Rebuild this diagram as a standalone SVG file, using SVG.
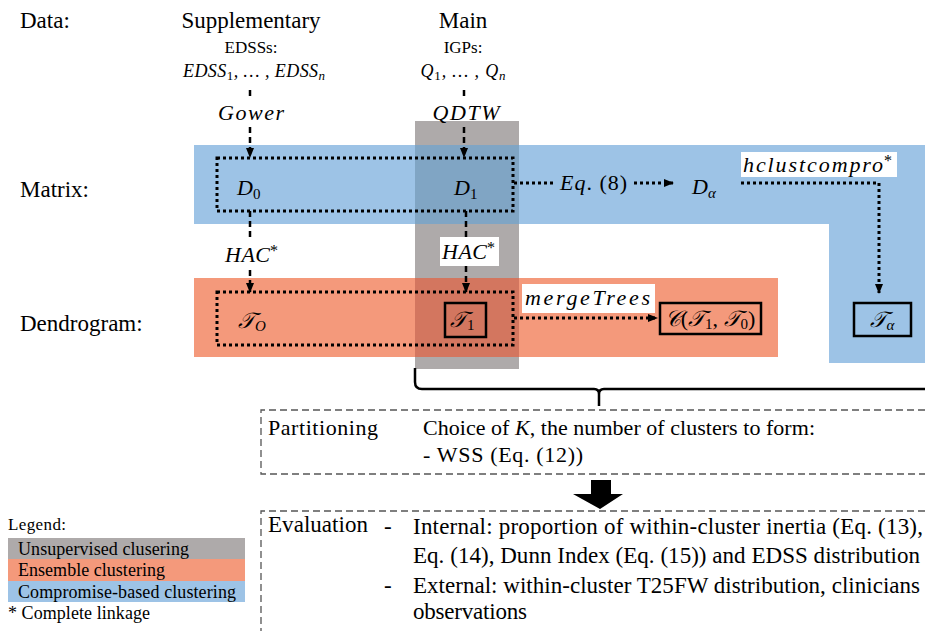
<svg xmlns="http://www.w3.org/2000/svg" width="925" height="631" viewBox="0 0 925 631">
<defs>
<marker id="ah" viewBox="0 0 10 10" refX="9" refY="5" markerWidth="10" markerHeight="10" orient="auto" markerUnits="userSpaceOnUse">
<path d="M0,1 L10,5 L0,9 z" fill="#000"/>
</marker>
<style>
.t{font-family:"Liberation Serif","Times New Roman",serif;fill:#000}
.m{font-family:"Liberation Serif","DejaVu Serif",serif;font-style:italic;fill:#000}
.dash{fill:none;stroke:#000;stroke-width:2.5;stroke-dasharray:6 4}
.dot{fill:none;stroke:#000;stroke-width:3;stroke-dasharray:3 3}
.box{fill:none;stroke:#000;stroke-width:2.5}
.gbox{fill:none;stroke:#555;stroke-width:1.3;stroke-dasharray:7 4}
</style>
</defs>
<rect width="925" height="631" fill="#fff"/>
<g id="bands">
<path d="M194,145 H925 V363 H829 V224 H194 Z" fill="#9DC3E6"/>
<rect x="194" y="278" width="584" height="79" fill="#F4997B"/>
<rect x="415" y="121" width="104" height="248" fill="#AEAAAA"/>
<rect x="415" y="145" width="104" height="79" fill="#80A5C4"/>
<rect x="415" y="278" width="104" height="79" fill="#D3765F"/>
</g>
<g id="labels">
<text class="t" x="20" y="28" font-size="23">Data:</text>
<text class="t" x="20" y="197" font-size="23">Matrix:</text>
<text class="t" x="20" y="331" font-size="23">Dendrogram:</text>
</g>
<g id="supp">
<text class="t" x="251" y="28" font-size="23" text-anchor="middle">Supplementary</text>
<text class="t" x="251" y="53" font-size="17" text-anchor="middle">EDSSs:</text>
<text class="m" x="254" y="77" font-size="18" text-anchor="middle" textLength="142">EDSS<tspan font-size="13" dy="3" font-style="normal">1</tspan><tspan dy="-3">, … , EDSS</tspan><tspan font-size="13" dy="3">n</tspan></text>
</g>
<g id="main">
<text class="t" x="463" y="28" font-size="23" text-anchor="middle">Main</text>
<text class="t" x="463" y="53" font-size="17" text-anchor="middle">IGPs:</text>
<text class="m" x="463" y="77" font-size="18" text-anchor="middle" textLength="85">Q<tspan font-size="13" dy="3" font-style="normal">1</tspan><tspan dy="-3">, … , Q</tspan><tspan font-size="13" dy="3">n</tspan></text>
</g>
<g id="connectors">
<line class="dash" x1="250" y1="90" x2="250" y2="100"/>
<line class="dash" x1="250" y1="127" x2="250" y2="157" marker-end="url(#ah)"/>
<line class="dash" x1="464" y1="90" x2="464" y2="100"/>
<line class="dash" x1="464" y1="127" x2="464" y2="157" marker-end="url(#ah)"/>
<line class="dash" x1="250" y1="211" x2="250" y2="238"/>
<line class="dash" x1="250" y1="270" x2="250" y2="292" marker-end="url(#ah)"/>
<line class="dash" x1="466" y1="211" x2="466" y2="238"/>
<line class="dash" x1="466" y1="266" x2="466" y2="292" marker-end="url(#ah)"/>
<line class="dot" x1="514" y1="183" x2="556" y2="183"/>
<line class="dot" x1="634" y1="183" x2="673" y2="183" marker-end="url(#ah)"/>
<polyline class="dot" points="741,183 879,183 879,293" marker-end="url(#ah)"/>
<line class="dot" x1="514" y1="318" x2="657" y2="318" marker-end="url(#ah)"/>
</g>
<g id="gower">
<text class="m" x="251" y="120" font-size="22" text-anchor="middle" textLength="66">Gower</text>
</g>
<g id="qdtw">
<text class="m" x="466" y="120" font-size="22" text-anchor="middle" textLength="67">QDTW</text>
</g>
<g id="matrixGroup">
<rect class="dot" x="217" y="158" width="296" height="53"/>
</g>
<g id="D0"><text class="m" x="237" y="195" font-size="22">D<tspan font-size="15" dy="4" font-style="normal">0</tspan></text></g>
<g id="D1"><text class="m" x="454" y="195" font-size="22">D<tspan font-size="15" dy="4" font-style="normal">1</tspan></text></g>
<g id="eq8"><text class="m" x="560" y="190" font-size="22" textLength="67">Eq<tspan font-style="normal">. (8)</tspan></text></g>
<g id="Dalpha"><text class="m" x="692" y="194" font-size="22">D<tspan font-size="15" dy="4">α</tspan></text></g>
<g id="hclust">
<rect x="741" y="152" width="156" height="25" fill="#fff"/>
<text class="m" x="743" y="172" font-size="22" textLength="140">hclustcompro</text>
<text class="t" x="884" y="166" font-size="16">*</text>
</g>
<g id="hacL"><text class="m" x="225" y="262" font-size="22" textLength="45">HAC</text><text class="t" x="270" y="256" font-size="16">*</text></g>
<g id="hacR">
<rect x="440" y="237" width="59" height="29" fill="#fff"/>
<text class="m" x="442" y="259" font-size="22" textLength="45">HAC</text><text class="t" x="487" y="253" font-size="16">*</text>
</g>
<g id="dendroGroup">
<rect class="dot" x="217" y="292" width="296" height="53"/>
</g>
<g id="TO"><text class="m" x="238" y="328" font-size="22">𝒯<tspan font-size="15" dy="3">O</tspan></text></g>
<g id="T1">
<rect class="box" x="445" y="303" width="41" height="34"/>
<text class="m" x="450" y="327" font-size="22">𝒯<tspan font-size="15" dy="3" font-style="normal">1</tspan></text>
</g>
<g id="merge">
<rect x="522" y="284" width="133" height="29" fill="#fff"/>
<text class="m" x="525" y="305" font-size="22" textLength="125">mergeTrees</text>
</g>
<g id="C">
<rect class="box" x="660" y="303" width="101" height="31"/>
<text class="m" x="710" y="326" font-size="22" text-anchor="middle">𝒞<tspan font-style="normal">(</tspan>𝒯<tspan font-size="15" dy="3" font-style="normal">1</tspan><tspan dy="-3" font-style="normal">, </tspan>𝒯<tspan font-size="15" dy="3" font-style="normal">0</tspan><tspan dy="-3" font-style="normal">)</tspan></text>
</g>
<g id="Talpha">
<rect class="box" x="854" y="303" width="57" height="33"/>
<text class="m" x="882" y="327" font-size="22" text-anchor="middle">𝒯<tspan font-size="15" dy="3">α</tspan></text>
</g>
<g id="brace">
<path d="M415,368 V382 Q415,389 422,389 H594 Q599,389 599,394 V406 M599,394 Q599,389 604,389 H925" fill="none" stroke="#000" stroke-width="2.5"/>
</g>
<g id="partitioning">
<path class="gbox" d="M925,410 H261 V474 H925"/>
<text class="t" x="268" y="435" font-size="22" textLength="110">Partitioning</text>
<text class="t" x="423" y="435" font-size="22" textLength="392">Choice of  <tspan font-style="italic">K</tspan>, the number of clusters to form:</text>
<text class="t" x="423" y="462" font-size="22" textLength="160">- WSS (Eq. (12))</text>
</g>
<g id="bigArrow">
<path d="M591,480 H611 V494 H623 L600,509 L573,494 H591 Z" fill="#000"/>
</g>
<g id="evaluation">
<path class="gbox" d="M925,511 H261 V631"/>
<text class="t" x="268" y="532" font-size="23" textLength="100">Evaluation</text>
<text class="t" x="384" y="534" font-size="23">-</text>
<text class="t" x="413" y="534" font-size="23" textLength="510">Internal: proportion of within-cluster inertia (Eq. (13),</text>
<text class="t" x="413" y="563" font-size="23" textLength="507">Eq. (14), Dunn Index (Eq. (15)) and EDSS distribution</text>
<text class="t" x="384" y="593" font-size="23">-</text>
<text class="t" x="413" y="593" font-size="23" textLength="507">External: within-cluster T25FW distribution, clinicians</text>
<text class="t" x="413" y="619" font-size="23" textLength="114">observations</text>
</g>
<g id="legend">
<text class="t" x="8" y="530" font-size="17" textLength="58">Legend:</text>
<rect x="8" y="538" width="237" height="21" fill="#AEAAAA"/>
<rect x="8" y="559" width="237" height="22" fill="#F4997B"/>
<rect x="8" y="581" width="237" height="21" fill="#9DC3E6"/>
<text class="t" x="18" y="555" font-size="18" textLength="171">Unsupervised clusering</text>
<text class="t" x="18" y="576" font-size="18" textLength="147">Ensemble clustering</text>
<text class="t" x="18" y="598" font-size="18" textLength="218">Compromise-based clustering</text>
<text class="t" x="8" y="619" font-size="18" textLength="142">* Complete linkage</text>
</g>
</svg>
